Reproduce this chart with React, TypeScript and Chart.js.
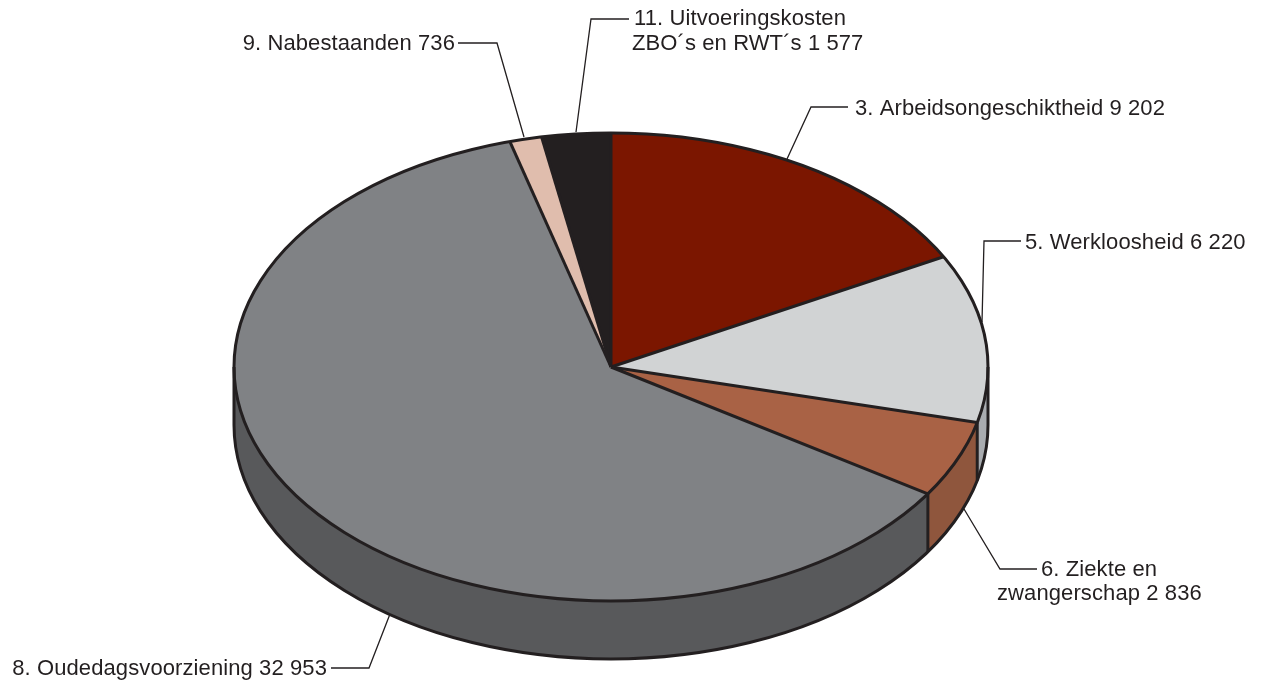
import React, { useEffect, useRef } from "react";
import { Chart, registerables } from "chart.js";

Chart.register(...registerables);

const categories = [
  "3. Arbeidsongeschiktheid",
  "5. Werkloosheid",
  "6. Ziekte en zwangerschap",
  "8. Oudedagsvoorziening",
  "9. Nabestaanden",
  "11. Uitvoeringskosten ZBO´s en RWT´s",
];
const values = [9202, 6220, 2836, 32953, 736, 1577];
const topColors = ["#7B1600", "#D1D3D4", "#A96245", "#808285", "#E0BDAD", "#231F20"];
const sideColors = ["#5E1100", "#A9ACB0", "#8F563D", "#58595B", "#B89888", "#111111"];
const labelLines = [
  ["3. Arbeidsongeschiktheid 9 202"],
  ["5. Werkloosheid 6 220"],
  ["6. Ziekte en", "zwangerschap 2 836"],
  ["8. Oudedagsvoorziening 32 953"],
  ["9. Nabestaanden 736"],
  ["11. Uitvoeringskosten", "ZBO´s en RWT´s 1 577"],
];

const WIDTH = 1262;
const HEIGHT = 684;
const RX = 377;
const RY = 234;
const DEPTH = 58;
const INK = "#231F20";
const FONT = '22px "Liberation Sans"';

const leaders: [number, number][][] = [
  [[787, 159], [811, 107], [848, 107]],
  [[982, 322], [984, 241], [1021, 241]],
  [[964, 509], [1000, 569], [1037, 569]],
  [[390, 614], [369, 668], [331, 668]],
  [[524, 137], [497, 43], [458, 43]],
  [[576, 132], [591, 19], [629, 19]],
];
const textPlaces: { x: number; y: number; align: CanvasTextAlign }[][] = [
  [{ x: 855, y: 109, align: "left" }],
  [{ x: 1025, y: 243, align: "left" }],
  [{ x: 1041, y: 570, align: "left" }, { x: 997, y: 594, align: "left" }],
  [{ x: 327, y: 669, align: "right" }],
  [{ x: 455, y: 44, align: "right" }],
  [{ x: 634, y: 19, align: "left" }, { x: 632, y: 44, align: "left" }],
];

const pie3d = {
  id: "pie3d",
  beforeDatasetsDraw(chart: any) {
    const { ctx } = chart;
    const arcs = chart.getDatasetMeta(0).data;
    const { x: cx, y: cy, outerRadius } = arcs[0];
    // side wall: only the part of each slice facing the viewer
    arcs.forEach((arc: any, i: number) => {
      const a = Math.max(arc.startAngle, 0);
      const b = Math.min(arc.endAngle, Math.PI);
      if (b <= a) return;
      ctx.beginPath();
      ctx.ellipse(cx, cy, RX, RY, 0, a, b);
      ctx.ellipse(cx, cy + DEPTH, RX, RY, 0, b, a, true);
      ctx.closePath();
      ctx.fillStyle = sideColors[i];
      ctx.fill();
    });
    ctx.save();
    ctx.translate(cx, cy);
    ctx.scale(RX / outerRadius, RY / outerRadius);
    ctx.translate(-cx, -cy);
  },
  afterDatasetsDraw(chart: any) {
    const { ctx } = chart;
    ctx.restore();
    const arcs = chart.getDatasetMeta(0).data;
    const { x: cx, y: cy } = arcs[0];
    ctx.save();
    ctx.strokeStyle = INK;
    ctx.lineWidth = 3;
    ctx.lineJoin = "round";
    // outer wall
    ctx.beginPath();
    ctx.moveTo(cx + RX, cy);
    ctx.lineTo(cx + RX, cy + DEPTH);
    ctx.ellipse(cx, cy + DEPTH, RX, RY, 0, 0, Math.PI);
    ctx.lineTo(cx - RX, cy);
    ctx.stroke();
    arcs.forEach((arc: any) => {
      const t = arc.startAngle;
      const px = cx + RX * Math.cos(t);
      const py = cy + RY * Math.sin(t);
      ctx.beginPath();
      ctx.moveTo(cx, cy);
      ctx.lineTo(px, py);
      ctx.stroke();
      const norm = ((t % (2 * Math.PI)) + 2 * Math.PI) % (2 * Math.PI);
      if (norm > 0 && norm < Math.PI) {
        ctx.beginPath();
        ctx.moveTo(px, py);
        ctx.lineTo(px, py + DEPTH);
        ctx.stroke();
      }
    });
    ctx.beginPath();
    ctx.ellipse(cx, cy, RX, RY, 0, 0, 2 * Math.PI);
    ctx.stroke();
    ctx.restore();
  },
  afterDraw(chart: any) {
    const { ctx } = chart;
    ctx.save();
    ctx.strokeStyle = INK;
    ctx.lineWidth = 1.3;
    ctx.lineJoin = "miter";
    leaders.forEach((pts) => {
      ctx.beginPath();
      pts.forEach(([x, y], i) => (i ? ctx.lineTo(x, y) : ctx.moveTo(x, y)));
      ctx.stroke();
    });
    ctx.fillStyle = INK;
    ctx.font = FONT;
    ctx.letterSpacing = "0.1px";
    ctx.textBaseline = "middle";
    labelLines.forEach((lines, i) => {
      lines.forEach((line, j) => {
        const p = textPlaces[i][j];
        ctx.textAlign = p.align;
        ctx.fillText(line, p.x, p.y);
      });
    });
    ctx.restore();
  },
};

export default function App() {
  const ref = useRef<HTMLCanvasElement>(null);
  useEffect(() => {
    const chart = new Chart(ref.current!, {
      type: "pie",
      data: {
        labels: categories,
        datasets: [
          {
            data: values,
            backgroundColor: topColors,
            borderWidth: 0,
            clip: false,
          } as any,
        ],
      },
      options: {
        responsive: false,
        animation: false,
        layout: { padding: { left: 0, right: 40, top: 50, bottom: 0 } },
        plugins: { legend: { display: false }, tooltip: { enabled: false } },
      },
      plugins: [pie3d],
    });
    return () => chart.destroy();
  }, []);
  return (
    <div style={{ position: "fixed", left: 0, top: 0, background: "#fff" }}>
      <canvas ref={ref} width={WIDTH} height={HEIGHT} style={{ display: "block" }} />
    </div>
  );
}
